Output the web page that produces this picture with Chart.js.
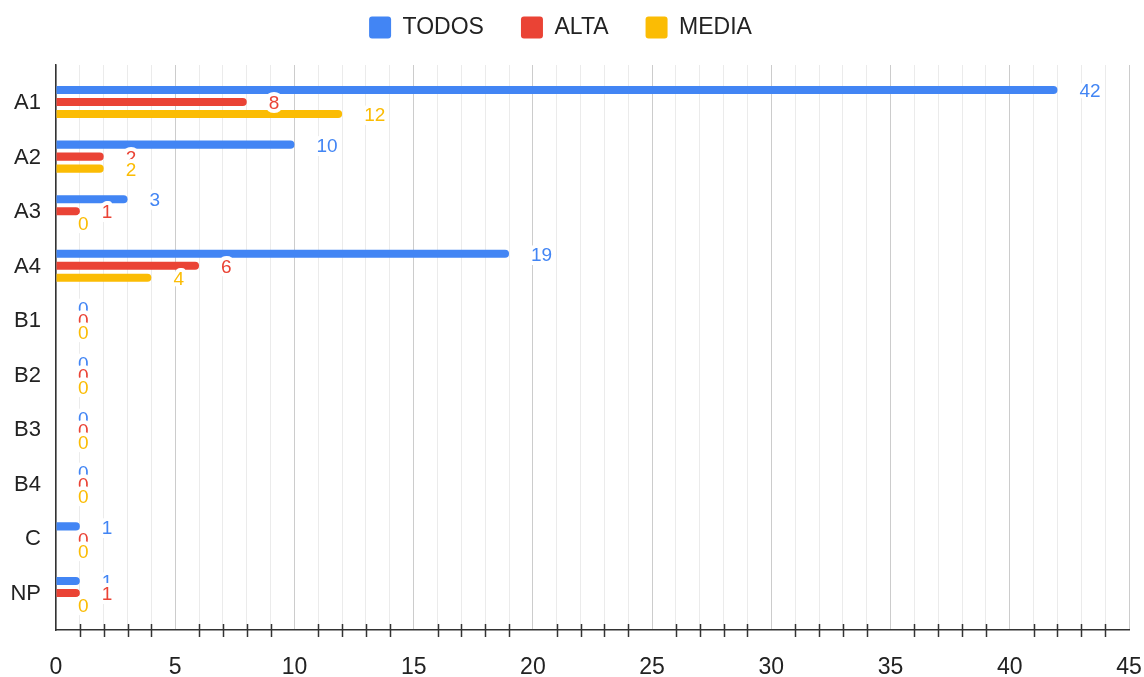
<!DOCTYPE html>
<html>
<head>
<meta charset="utf-8">
<script src="https://cdn.jsdelivr.net/npm/chart.js@4.4.1/dist/chart.umd.min.js"></script>
<style>
  html, body { margin: 0; padding: 0; background: #fff; }
  #wrap { width: 1144px; height: 677px; }
</style>
</head>
<body>
<div id="wrap"><canvas id="niveles"></canvas></div>
<script>
const categorias = ['A1', 'A2', 'A3', 'A4', 'B1', 'B2', 'B3', 'B4', 'C', 'NP'];
const todos = [42, 10, 3, 19, 0, 0, 0, 0, 1, 1];
const alta  = [8, 2, 1, 6, 0, 0, 0, 0, 0, 1];
const media = [12, 2, 0, 4, 0, 0, 0, 0, 0, 0];
const ejeX = [0, 5, 10, 15, 20, 25, 30, 35, 40, 45];

const FUENTE = 'Arial, "Liberation Sans", sans-serif';

// numbers drawn just past the end of each bar, with a white halo
const etiquetasValor = {
  id: 'etiquetasValor',
  afterDatasetsDraw(chart) {
    const ctx = chart.ctx;
    ctx.save();
    ctx.font = '19px ' + FUENTE;
    ctx.textAlign = 'left';
    ctx.textBaseline = 'middle';
    ctx.lineJoin = 'round';
    ctx.lineWidth = 8;
    ctx.strokeStyle = '#fff';
    chart.data.datasets.forEach((ds, i) => {
      chart.getDatasetMeta(i).data.forEach((bar, j) => {
        const txt = String(ds.data[j].x);
        const x = bar.x + 22;
        const y = bar.y + 2;
        ctx.strokeText(txt, x, y);
        ctx.fillStyle = ds.backgroundColor;
        ctx.fillText(txt, x, y);
      });
    });
    ctx.restore();
  }
};

// small marks across the bottom axis for every unit that has no label
const marcasMenores = {
  id: 'marcasMenores',
  afterDraw(chart) {
    const { ctx, chartArea } = chart;
    const x = chart.scales.x;
    ctx.save();
    ctx.strokeStyle = '#333';
    ctx.lineWidth = 1.5;
    x.ticks.forEach(t => {
      if (ejeX.includes(t.value)) return;
      const px = Math.round(x.getPixelForValue(t.value)) + 0.5;
      ctx.beginPath();
      ctx.moveTo(px, chartArea.bottom - 6);
      ctx.lineTo(px, chartArea.bottom + 7);
      ctx.stroke();
    });
    ctx.restore();
  }
};

const aPuntos = arr => arr.map((v, i) => ({ x: v, y: i }));

new Chart(document.getElementById('niveles'), {
  type: 'bar',
  data: {
    datasets: [
      { label: 'TODOS', data: aPuntos(todos), backgroundColor: '#4285F4' },
      { label: 'ALTA', data: aPuntos(alta), backgroundColor: '#EA4335' },
      { label: 'MEDIA', data: aPuntos(media), backgroundColor: '#FBBC04' }
    ]
  },
  options: {
    indexAxis: 'y',
    responsive: true,
    maintainAspectRatio: false,
    animation: false,
    datasets: {
      bar: {
        categoryPercentage: 0.66,
        barPercentage: 0.67,
        borderRadius: 4
      }
    },
    layout: { padding: { top: -21, right: 15, bottom: 0, left: -8 } },
    plugins: {
      legend: {
        position: 'top',
        labels: {
          font: { family: FUENTE, size: 23 },
          color: '#222',
          boxWidth: 22,
          boxHeight: 22,
          padding: 37,
          useBorderRadius: true,
          borderRadius: 3
        }
      },
      subtitle: {
        display: true,
        text: '',
        weight: 500,
        padding: 0,
        font: { size: 16, lineHeight: 1 }
      },
      tooltip: { enabled: false }
    },
    scales: {
      x: {
        type: 'linear',
        position: 'bottom',
        min: 0,
        max: 45,
        grid: {
          drawTicks: false,
          color: c => ejeX.includes(c.tick.value) ? '#cccccc' : '#ebebeb'
        },
        border: { color: '#333', width: 1.5 },
        ticks: {
          stepSize: 1,
          autoSkip: false,
          maxRotation: 0,
          padding: 24,
          color: '#222',
          font: { family: FUENTE, size: 23 },
          callback: v => ejeX.includes(v) ? v : ''
        },
        afterFit: s => {
          s.height = 47;
          s.paddingRight = 15;
        }
      },
      y: {
        type: 'linear',
        reverse: true,
        offset: false,
        min: -0.68,
        max: 9.68,
        grid: { display: false, drawTicks: false, offset: false },
        border: { color: '#333', width: 1.5 },
        ticks: {
          padding: 15,
          labelOffset: 1,
          color: '#222',
          font: { family: FUENTE, size: 22 },
          callback: v => categorias[v]
        },
        afterBuildTicks: s => { s.ticks = categorias.map((c, i) => ({ value: i })); },
        afterFit: s => { s.width = 64; }
      }
    }
  },
  plugins: [etiquetasValor, marcasMenores]
});
</script>
</body>
</html>
